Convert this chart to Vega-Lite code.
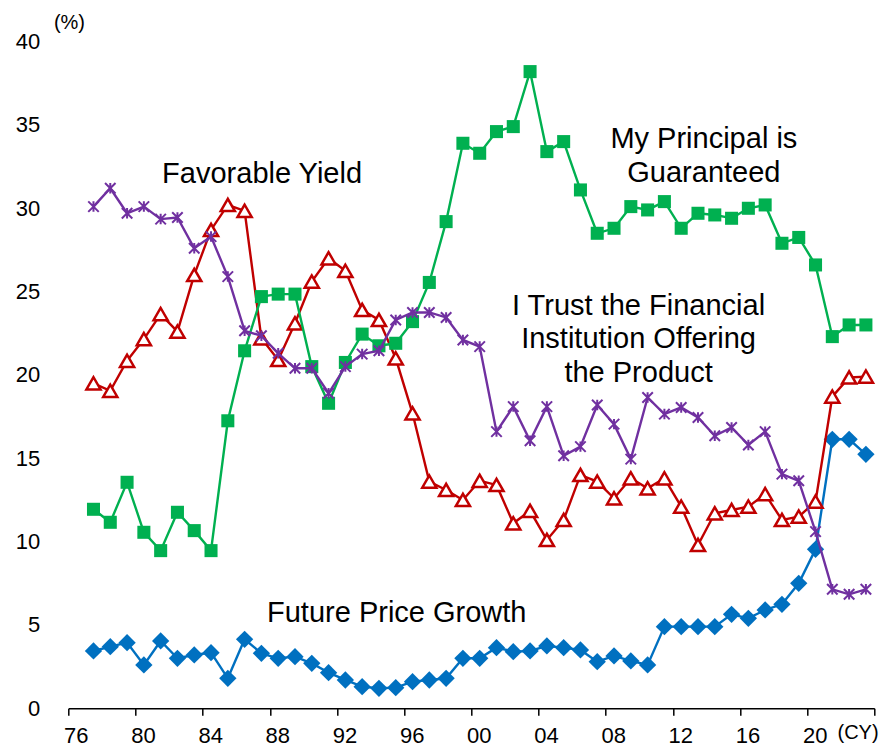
{
  "$schema": "https://vega.github.io/schema/vega-lite/v6.json",
  "width": 806,
  "height": 666.7,
  "autosize": {"type": "none"},
  "padding": {"left": 68.3, "top": 41.6, "right": 7.7, "bottom": 38.7},
  "background": "white",
  "config": {"view": {"stroke": null}, "font": "Liberation Sans", "axis": {"labelFont": "Liberation Sans"}},
  "datasets": {
    "survey": [
      {"year": 1977, "fpg": 3.44, "fy": 19.5, "pg": 11.94, "trust": 30.1},
      {"year": 1978, "fpg": 3.70, "fy": 19.05, "pg": 11.16, "trust": 31.2},
      {"year": 1979, "fpg": 3.94, "fy": 20.85, "pg": 13.56, "trust": 29.7},
      {"year": 1980, "fpg": 2.60, "fy": 22.15, "pg": 10.56, "trust": 30.1},
      {"year": 1981, "fpg": 4.04, "fy": 23.65, "pg": 9.46, "trust": 29.35},
      {"year": 1982, "fpg": 3.00, "fy": 22.6, "pg": 11.76, "trust": 29.45},
      {"year": 1983, "fpg": 3.20, "fy": 26.0, "pg": 10.66, "trust": 27.6},
      {"year": 1984, "fpg": 3.34, "fy": 28.7, "pg": 9.46, "trust": 28.3},
      {"year": 1985, "fpg": 1.80, "fy": 30.2, "pg": 17.25, "trust": 25.9},
      {"year": 1986, "fpg": 4.14, "fy": 29.85, "pg": 21.45, "trust": 22.65},
      {"year": 1987, "fpg": 3.30, "fy": 22.2, "pg": 24.7, "trust": 22.35},
      {"year": 1988, "fpg": 3.00, "fy": 20.9, "pg": 24.85, "trust": 21.3},
      {"year": 1989, "fpg": 3.10, "fy": 23.1, "pg": 24.85, "trust": 20.4},
      {"year": 1990, "fpg": 2.70, "fy": 25.6, "pg": 20.5, "trust": 20.4},
      {"year": 1991, "fpg": 2.14, "fy": 27.0, "pg": 18.3, "trust": 18.9},
      {"year": 1992, "fpg": 1.70, "fy": 26.25, "pg": 20.75, "trust": 20.5},
      {"year": 1993, "fpg": 1.30, "fy": 23.9, "pg": 22.45, "trust": 21.25},
      {"year": 1994, "fpg": 1.20, "fy": 23.3, "pg": 21.75, "trust": 21.45},
      {"year": 1995, "fpg": 1.24, "fy": 21.0, "pg": 21.9, "trust": 23.3},
      {"year": 1996, "fpg": 1.60, "fy": 17.7, "pg": 23.2, "trust": 23.75},
      {"year": 1997, "fpg": 1.70, "fy": 13.6, "pg": 25.55, "trust": 23.75},
      {"year": 1998, "fpg": 1.80, "fy": 13.1, "pg": 29.2, "trust": 23.45},
      {"year": 1999, "fpg": 3.00, "fy": 12.5, "pg": 33.9, "trust": 22.1},
      {"year": 2000, "fpg": 3.00, "fy": 13.65, "pg": 33.3, "trust": 21.7},
      {"year": 2001, "fpg": 3.64, "fy": 13.4, "pg": 34.6, "trust": 16.6},
      {"year": 2002, "fpg": 3.40, "fy": 11.1, "pg": 34.9, "trust": 18.1},
      {"year": 2003, "fpg": 3.44, "fy": 11.85, "pg": 38.2, "trust": 16.05},
      {"year": 2004, "fpg": 3.74, "fy": 10.1, "pg": 33.4, "trust": 18.1},
      {"year": 2005, "fpg": 3.64, "fy": 11.3, "pg": 34.0, "trust": 15.15},
      {"year": 2006, "fpg": 3.50, "fy": 14.0, "pg": 31.1, "trust": 15.7},
      {"year": 2007, "fpg": 2.80, "fy": 13.6, "pg": 28.5, "trust": 18.2},
      {"year": 2008, "fpg": 3.14, "fy": 12.6, "pg": 28.8, "trust": 17.05},
      {"year": 2009, "fpg": 2.84, "fy": 13.8, "pg": 30.1, "trust": 14.95},
      {"year": 2010, "fpg": 2.60, "fy": 13.2, "pg": 29.9, "trust": 18.65},
      {"year": 2011, "fpg": 4.90, "fy": 13.8, "pg": 30.4, "trust": 17.65},
      {"year": 2012, "fpg": 4.90, "fy": 12.1, "pg": 28.8, "trust": 18.05},
      {"year": 2013, "fpg": 4.90, "fy": 9.8, "pg": 29.7, "trust": 17.45},
      {"year": 2014, "fpg": 4.90, "fy": 11.7, "pg": 29.6, "trust": 16.35},
      {"year": 2015, "fpg": 5.64, "fy": 11.9, "pg": 29.4, "trust": 16.85},
      {"year": 2016, "fpg": 5.40, "fy": 12.1, "pg": 30.0, "trust": 15.8},
      {"year": 2017, "fpg": 5.90, "fy": 12.85, "pg": 30.2, "trust": 16.6},
      {"year": 2018, "fpg": 6.24, "fy": 11.3, "pg": 27.9, "trust": 14.05},
      {"year": 2019, "fpg": 7.50, "fy": 11.5, "pg": 28.25, "trust": 13.65},
      {"year": 2020, "fpg": 9.54, "fy": 12.4, "pg": 26.6, "trust": 10.6},
      {"year": 2021, "fpg": 16.14, "fy": 18.7, "pg": 22.3, "trust": 7.14},
      {"year": 2022, "fpg": 16.14, "fy": 19.85, "pg": 23.0, "trust": 6.84},
      {"year": 2023, "fpg": 15.24, "fy": 19.9, "pg": 23.0, "trust": 7.14}
    ],
    "labels": [
      {"year": 1987.04, "value": 31.52, "text": "Favorable Yield"},
      {"year": 2013.35, "value": 33.6, "text": "My Principal is"},
      {"year": 2013.35, "value": 31.6, "text": "Guaranteed"},
      {"year": 2009.46, "value": 23.6, "text": "I Trust the Financial"},
      {"year": 2009.46, "value": 21.6, "text": "Institution Offering"},
      {"year": 2009.46, "value": 19.6, "text": "the Product"},
      {"year": 1995.06, "value": 5.2, "text": "Future Price Growth"}
    ],
    "units": [
      {"year": 1975.57, "value": 40.74, "text": "(%)"},
      {"year": 2022.53, "value": -1.86, "text": "(CY)"}
    ]
  },
  "encoding": {
    "x": {
      "field": "year",
      "type": "quantitative",
      "scale": {"domain": [1975.5, 2023.5], "nice": false, "zero": false},
      "axis": {
        "values": [1975.5, 1979.5, 1983.5, 1987.5, 1991.5, 1995.5, 1999.5, 2003.5, 2007.5, 2011.5, 2015.5, 2019.5, 2023.5],
        "labelExpr": "datum.value > 2023 ? '' : format(ceil(datum.value) % 100, '02d')",
        "title": null,
        "grid": false,
        "domainColor": "black",
        "domainWidth": 1.5,
        "tickColor": "black",
        "tickWidth": 1.5,
        "tickSize": 7,
        "labelFontSize": 22,
        "labelColor": "black",
        "labelPadding": 10,
        "labelOffset": 7.5,
        "labelFlush": false,
        "labelOverlap": false
      }
    }
  },
  "layer": [
    {
      "data": {"name": "survey"},
      "encoding": {
        "y": {
          "field": "fpg",
          "type": "quantitative",
          "scale": {"domain": [0, 40], "nice": false, "zero": true},
          "axis": {"values": [0, 5, 10, 15, 20, 25, 30, 35, 40], "title": null, "grid": false, "domain": false, "ticks": false, "labelFontSize": 22, "labelColor": "black", "labelPadding": 28.5}
        }
      },
      "layer": [
        {"mark": {"type": "line", "color": "#0070C0", "strokeWidth": 2.4}},
        {"mark": {"type": "point", "shape": "diamond", "filled": true, "color": "#0070C0", "size": 300, "opacity": 1}}
      ]
    },
    {
      "data": {"name": "survey"},
      "encoding": {
        "y": {
          "field": "fy",
          "type": "quantitative",
          "axis": {"values": [0, 5, 10, 15, 20, 25, 30, 35, 40], "title": null, "grid": false, "domain": false, "ticks": false, "labelFontSize": 22, "labelColor": "black", "labelPadding": 28.5}
        }
      },
      "layer": [
        {"mark": {"type": "line", "color": "#C00000", "strokeWidth": 2.4}},
        {"mark": {"type": "point", "shape": "triangle-up", "filled": true, "fill": "#FFFFFF", "stroke": "#C00000", "strokeWidth": 2.5, "size": 200, "opacity": 1}}
      ]
    },
    {
      "data": {"name": "survey"},
      "encoding": {
        "y": {
          "field": "pg",
          "type": "quantitative",
          "axis": {"values": [0, 5, 10, 15, 20, 25, 30, 35, 40], "title": null, "grid": false, "domain": false, "ticks": false, "labelFontSize": 22, "labelColor": "black", "labelPadding": 28.5}
        }
      },
      "layer": [
        {"mark": {"type": "line", "color": "#00B050", "strokeWidth": 2.4}},
        {"mark": {"type": "point", "shape": "square", "filled": true, "color": "#00B050", "size": 170, "opacity": 1}}
      ]
    },
    {
      "data": {"name": "survey"},
      "encoding": {
        "y": {
          "field": "trust",
          "type": "quantitative",
          "axis": {"values": [0, 5, 10, 15, 20, 25, 30, 35, 40], "title": null, "grid": false, "domain": false, "ticks": false, "labelFontSize": 22, "labelColor": "black", "labelPadding": 28.5}
        }
      },
      "layer": [
        {"mark": {"type": "line", "color": "#7030A0", "strokeWidth": 2.4}},
        {"mark": {"type": "point", "shape": "M-1,-1L1,1M-1,1L1,-1M0,-1L0,1", "filled": false, "stroke": "#7030A0", "strokeWidth": 2, "size": 110, "opacity": 1}}
      ]
    },
    {
      "data": {"name": "labels"},
      "mark": {"type": "text", "fontSize": 29, "align": "center", "baseline": "alphabetic", "color": "black", "font": "Liberation Sans"},
      "encoding": {
        "y": {
          "field": "value",
          "type": "quantitative",
          "axis": {"values": [0, 5, 10, 15, 20, 25, 30, 35, 40], "title": null, "grid": false, "domain": false, "ticks": false, "labelFontSize": 22, "labelColor": "black", "labelPadding": 28.5}
        },
        "text": {"field": "text", "type": "nominal"}
      }
    },
    {
      "data": {"name": "units"},
      "mark": {"type": "text", "fontSize": 20, "align": "center", "baseline": "alphabetic", "color": "black", "font": "Liberation Sans"},
      "encoding": {
        "y": {
          "field": "value",
          "type": "quantitative",
          "axis": {"values": [0, 5, 10, 15, 20, 25, 30, 35, 40], "title": null, "grid": false, "domain": false, "ticks": false, "labelFontSize": 22, "labelColor": "black", "labelPadding": 28.5}
        },
        "text": {"field": "text", "type": "nominal"}
      }
    }
  ]
}
